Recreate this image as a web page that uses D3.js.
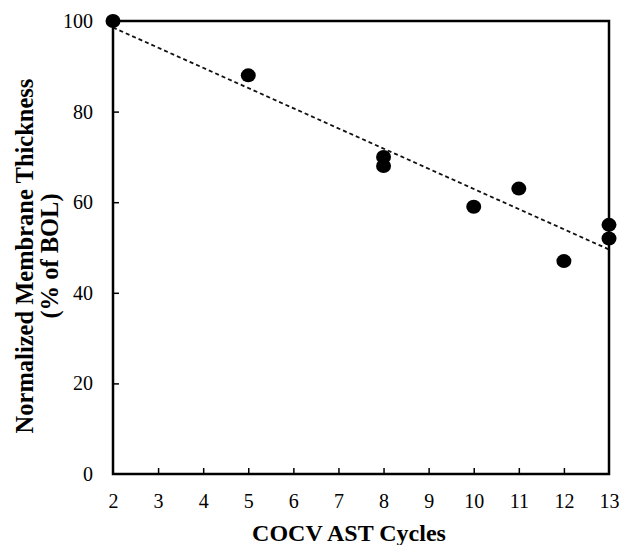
<!DOCTYPE html>
<html><head><meta charset="utf-8">
<script src="https://cdn.jsdelivr.net/npm/d3@7"></script>
<style>body{margin:0;background:#fff}svg{display:block}</style>
</head><body>
<script>
const cycles = [2, 5, 8, 8, 10, 11, 12, 13, 13];
const thickness = [100, 88, 70, 68, 59, 63, 47, 55, 52];
const xTicks = [2,3,4,5,6,7,8,9,10,11,12,13];
const yTicks = [0,20,40,60,80,100];
const xTitle = "COCV AST Cycles";
const yTitle1 = "Normalized Membrane Thickness";
const yTitle2 = "(% of BOL)";

const W = 619, H = 545;
const m = {l:113, t:21, r:W-609, b:H-474};
const svg = d3.select("body").append("svg").attr("width",W).attr("height",H);
const x = d3.scaleLinear().domain([2,13]).range([m.l, W-m.r]);
const y = d3.scaleLinear().domain([0,100]).range([H-m.b, m.t]);
const font = "'Liberation Serif','Times New Roman',serif";

// frame
svg.append("rect").attr("x",x(2)).attr("y",y(100)).attr("width",x(13)-x(2)).attr("height",y(0)-y(100))
  .attr("fill","none").attr("stroke","#000").attr("stroke-width",2.5);

// x axis
const xa = svg.append("g").attr("transform",`translate(0,${y(0)})`)
  .call(d3.axisBottom(x).tickValues(xTicks).tickSizeInner(-6).tickSizeOuter(0).tickPadding(20).tickFormat(d3.format("d")));
xa.select(".domain").remove();
xa.selectAll("line").attr("stroke","#000").attr("stroke-width",1.5);
xa.selectAll("text").attr("font-family",font).attr("font-size",20).attr("fill","#000").attr("dy","0.71em");
xa.selectAll(".tick").filter(d=>d===2||d===13).select("line").remove();

// y axis
const ya = svg.append("g").attr("transform",`translate(${x(2)},0)`)
  .call(d3.axisLeft(y).tickValues(yTicks).tickSizeInner(-6).tickSizeOuter(0).tickPadding(20));
ya.select(".domain").remove();
ya.selectAll("line").attr("stroke","#000").attr("stroke-width",1.5);
ya.selectAll("text").attr("font-family",font).attr("font-size",20).attr("fill","#000");
ya.selectAll(".tick").filter(d=>d===0||d===100).select("line").remove();

// trend line (least squares from data)
const n = cycles.length;
const mx = d3.mean(cycles), my = d3.mean(thickness);
let sxy=0, sxx=0;
for(let i=0;i<n;i++){sxy+=(cycles[i]-mx)*(thickness[i]-my); sxx+=(cycles[i]-mx)**2;}
const slope = sxy/sxx, icpt = my - slope*mx;
svg.append("line").attr("x1",x(2)).attr("y1",y(icpt+slope*2)).attr("x2",x(13)).attr("y2",y(icpt+slope*13))
  .attr("stroke","#111").attr("stroke-width",1.8).attr("stroke-dasharray","4,3");

// points
svg.append("g").selectAll("ellipse").data(cycles.map((c,i)=>[c,thickness[i]])).join("ellipse")
  .attr("cx",d=>x(d[0])).attr("cy",d=>y(d[1])).attr("rx",7.5).attr("ry",7).attr("fill","#000");

// titles
svg.append("text").attr("x",349).attr("y",541).attr("text-anchor","middle")
  .attr("font-family",font).attr("font-weight","bold").attr("font-size",24).text(xTitle);
const yc = 256;
svg.append("text").attr("transform",`translate(33,${yc}) rotate(-90)`).attr("text-anchor","middle")
  .attr("font-family",font).attr("font-weight","bold").attr("font-size",24.5).text(yTitle1);
svg.append("text").attr("transform",`translate(58,${yc}) rotate(-90)`).attr("text-anchor","middle")
  .attr("font-family",font).attr("font-weight","bold").attr("font-size",24.5).text(yTitle2);
</script>
</body></html>
